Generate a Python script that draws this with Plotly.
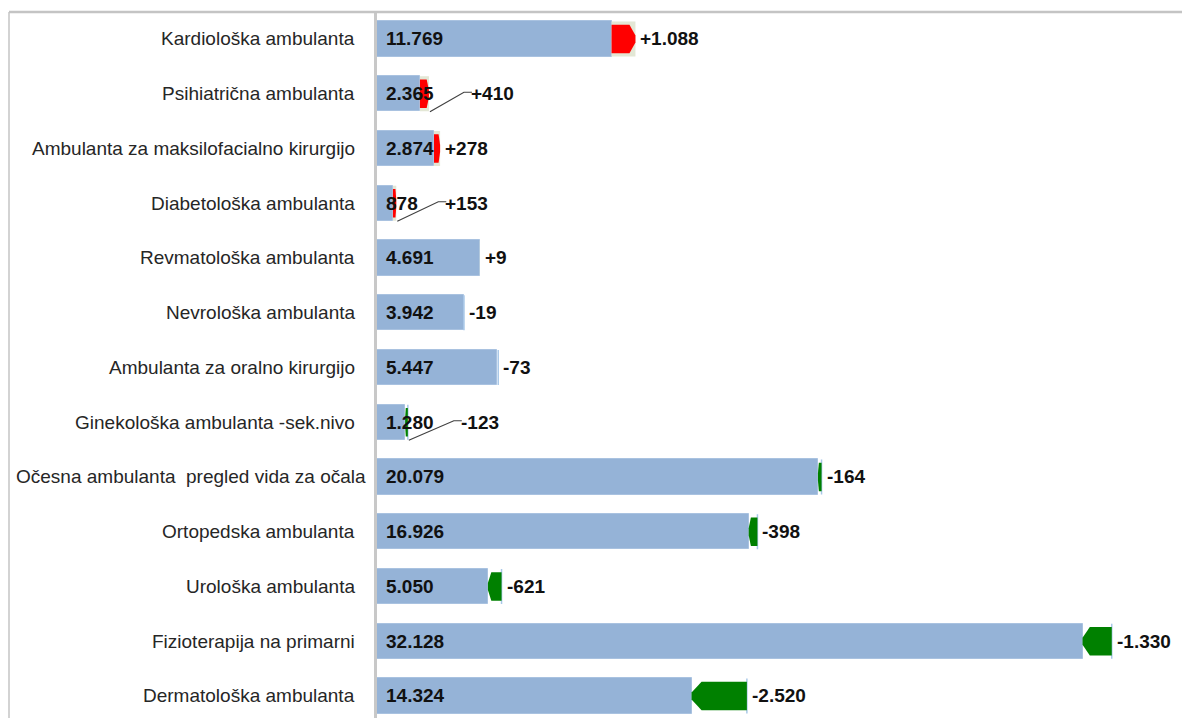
import plotly.graph_objects as go

# ---------------- data ----------------
categories = [
    "Kardiološka ambulanta",
    "Psihiatrična ambulanta",
    "Ambulanta za maksilofacialno kirurgijo",
    "Diabetološka ambulanta",
    "Revmatološka ambulanta",
    "Nevrološka ambulanta",
    "Ambulanta za oralno kirurgijo",
    "Ginekološka ambulanta -sek.nivo",
    "Očesna ambulanta\u00a0 pregled vida za očala",
    "Ortopedska ambulanta",
    "Urološka ambulanta",
    "Fizioterapija na primarni",
    "Dermatološka ambulanta",
]
current_values = [11769, 2365, 2874, 878, 4691, 3942, 5447, 1280, 20079, 16926, 5050, 32128, 14324]
change_values = [1088, 410, 278, 153, 9, -19, -73, -123, -164, -398, -621, -1330, -2520]

# labels moved away from their bars with a leader line (offset in px from bar end)
leader_offsets_px = {1: 41, 3: 48, 7: 52}
# category label gap from axis (px); the long label sits closer to the axis
label_gap_px = {8: 9}
DEFAULT_LABEL_GAP = 20

# ---------------- layout geometry ----------------
W, H = 1190, 718
PAGE_OFF = 8                      # browser body margin
ML, MR, MT, MB = 377 - PAGE_OFF, 0, 12 - PAGE_OFF, 0
PLOT_W = W - ML - MR
PLOT_H = H - MT - MB
PX_X = 0.02196                    # pixels per unit on the value axis
XMAX = PLOT_W / PX_X
ROW_PX = 54.75
Y_TOP = -0.493
Y_BOT = Y_TOP + PLOT_H / ROW_PX
PX_Y = ROW_PX

BAR_W = 0.64
ARROW_H = 0.52

BLUE = "#95b3d7"
RED = "#ff0000"
GREEN = "#008000"
PALE = "#e3e7d5"
FONT = "Liberation Sans, Arial, sans-serif"
TXT = "#111111"


def fmt(v, sign=False):
    s = f"{abs(v):,}".replace(",", ".")
    if sign:
        return ("+" if v >= 0 else "-") + s
    return ("-" if v < 0 else "") + s


idx = list(range(len(categories)))
low = [min(c, c - d) for c, d in zip(current_values, change_values)]
high = [max(c, c - d) for c, d in zip(current_values, change_values)]

fig = go.Figure()
fig.add_trace(go.Bar(
    y=idx, x=low, orientation="h", width=BAR_W,
    marker=dict(color=BLUE, line=dict(color="#a9c2e0", width=1)),
    hoverinfo="skip", showlegend=False,
))

shapes = []
annotations = []

for i, (cat, c, d, lo, hi) in enumerate(zip(categories, current_values, change_values, low, high)):
    length = hi - lo
    tip = min(0.25 * length, 10 / PX_X)
    h2 = ARROW_H / 2
    f = 0.12 * ARROW_H
    if d > 0:
        shapes.append(dict(type="rect", xref="x", yref="y", x0=lo, x1=hi,
                           y0=i - BAR_W / 2, y1=i + BAR_W / 2,
                           fillcolor=PALE, line=dict(width=0), layer="above"))
        path = (f"M {lo},{i - h2} L {hi - tip},{i - h2} L {hi},{i - f} L {hi},{i + f} "
                f"L {hi - tip},{i + h2} L {lo},{i + h2} Z")
        color = RED
    else:
        shapes.append(dict(type="line", xref="x", yref="y", x0=hi, x1=hi,
                           y0=i - BAR_W / 2, y1=i + BAR_W / 2,
                           line=dict(color="#a9c8e8", width=1.5), layer="above"))
        path = (f"M {hi},{i - h2} L {lo + tip},{i - h2} L {lo},{i - f} L {lo},{i + f} "
                f"L {lo + tip},{i + h2} L {hi},{i + h2} Z")
        color = GREEN
    if length * PX_X >= 2.5:
        shapes.append(dict(type="path", xref="x", yref="y", path=path,
                           fillcolor=color, line=dict(width=0), layer="above"))

    # category label
    annotations.append(dict(x=0, y=i, xref="paper", yref="y", text=cat,
                            showarrow=False, xanchor="right", yanchor="middle",
                            xshift=-label_gap_px.get(i, DEFAULT_LABEL_GAP),
                            font=dict(family=FONT, size=19, color="#262626")))

    # value label inside bar
    annotations.append(dict(x=0, y=i, xref="x", yref="y", text=f"<b>{fmt(c)}</b>",
                            showarrow=False, xanchor="left", yanchor="middle", xshift=7,
                            font=dict(family=FONT, size=19, color=TXT)))

    # change label
    if i in leader_offsets_px:
        off = leader_offsets_px[i]
        lab_x = hi + off / PX_X
        sx, sy = hi + 1 / PX_X, i + 18 / PX_Y
        bx, by = lab_x - 6 / PX_X, i - 1.5 / PX_Y
        ex, ey = lab_x + 2 / PX_X, i - 1.5 / PX_Y
        shapes.append(dict(type="path", xref="x", yref="y",
                           path=f"M {sx},{sy} L {bx},{by} L {ex},{ey}",
                           line=dict(color="#404040", width=1.2), layer="above"))
        annotations.append(dict(x=lab_x, y=i, xref="x", yref="y", text=f"<b>{fmt(d, True)}</b>",
                                showarrow=False, xanchor="left", yanchor="middle", xshift=-1,
                                font=dict(family=FONT, size=19, color=TXT)))
    else:
        annotations.append(dict(x=hi, y=i, xref="x", yref="y", text=f"<b>{fmt(d, True)}</b>",
                                showarrow=False, xanchor="left", yanchor="middle", xshift=3,
                                font=dict(family=FONT, size=19, color=TXT)))

# outer border (top and left edges visible)
bx0 = (1 - ML) / PLOT_W
shapes.append(dict(type="line", xref="paper", yref="paper", x0=bx0, x1=1.02, y0=1, y1=1,
                   line=dict(color="#c4c4c4", width=2.5)))
shapes.append(dict(type="line", xref="paper", yref="paper", x0=bx0, x1=bx0, y0=1, y1=-0.05,
                   line=dict(color="#c4c4c4", width=1.5)))

fig.update_layout(
    width=W, height=H,
    margin=dict(l=ML, r=MR, t=MT, b=MB, autoexpand=False),
    plot_bgcolor="white", paper_bgcolor="white",
    shapes=shapes, annotations=annotations,
    bargap=0, showlegend=False,
    xaxis=dict(range=[0, XMAX], visible=False, showgrid=False, zeroline=False, automargin=False),
    yaxis=dict(range=[Y_BOT, Y_TOP], tickmode="array", tickvals=idx,
               ticktext=[""] * len(idx), automargin=False,
               showgrid=False, zeroline=False, showline=True, linecolor="#c8c8c8", linewidth=3,
               ticks=""),
)

fig.write_html("out.html")
